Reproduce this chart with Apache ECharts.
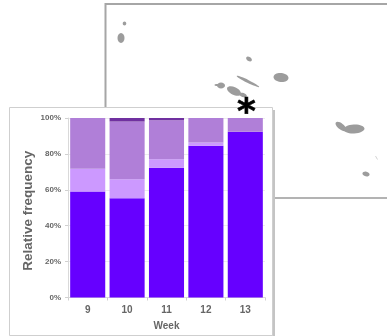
<!DOCTYPE html>
<html>
<head>
<meta charset="utf-8">
<style>
  html, body { margin: 0; padding: 0; background: #fff; }
  #main { width: 387px; height: 336px; }
</style>
<script src="https://cdn.jsdelivr.net/npm/echarts@6/dist/echarts.min.js"></script>
</head>
<body>
<div id="main"></div>
<script>
var weeks = ["9", "10", "11", "12", "13"];
var bottomValues = [59, 55.3, 72.3, 84.5, 92.4];
var lightValues = [12.7, 10.6, 4.7, 1.9, 0];
var midValues = [28.3, 32.1, 21.7, 13.6, 7.6];
var darkValues = [0, 2, 1.3, 0, 0];
var yTicks = [0, 20, 40, 60, 80, 100];

var landColor = "#9c9c9c";
var frameColor = "#a6a6a6";

function ellipse(cx, cy, rx, ry, deg) {
  // deg is clockwise on screen, zrender rotates the other way
  return {
    type: "ellipse",
    z: -1,
    x: cx,
    y: cy,
    rotation: (-(deg || 0) * Math.PI) / 180,
    shape: { cx: 0, cy: 0, rx: rx, ry: ry },
    style: { fill: landColor },
  };
}

var chart = echarts.init(document.getElementById("main"));
chart.setOption({
  animation: false,
  backgroundColor: "#fff",
  graphic: [
    // map frame behind the panel
    { type: "polyline", z: -1, shape: { points: [[105.5, 198], [105.5, 4], [387, 4]] }, style: { stroke: frameColor, lineWidth: 2, fill: null } },
    { type: "line", z: -1, shape: { x1: 273, y1: 198, x2: 387, y2: 198 }, style: { stroke: "#9a9a9a", lineWidth: 1.5 } },
    ellipse(124.5, 23.5, 1.8, 2),
    ellipse(121, 38, 3.5, 5),
    ellipse(249, 59, 3.2, 2, 35),
    ellipse(248, 81.5, 12.5, 1.5, 26),
    ellipse(281, 77.5, 7.5, 4.5, 6),
    ellipse(221, 85.5, 4, 3),
    ellipse(217, 85, 2.5, 1),
    ellipse(234, 91, 7.5, 3.8, 25),
    ellipse(243, 95, 4, 2, 20),
    ellipse(366, 174, 3.6, 2.4, 10),
    ellipse(341, 126.5, 6.5, 3, 38),
    ellipse(354, 129, 10.5, 4.5, -3),
    { type: "line", z: -1, shape: { x1: 375.5, y1: 156, x2: 377.5, y2: 159.5 }, style: { stroke: "#c8c8c8", lineWidth: 0.8 } },
    // chart panel
    { type: "rect", z: -1, shape: { x: 11, y: 110, width: 264, height: 228 }, style: { fill: "#c4c4c4" } },
    { type: "rect", z: -1, shape: { x: 9.5, y: 107.5, width: 263, height: 228 }, style: { fill: "#fff", stroke: "#cfcfcf", lineWidth: 1 } },
    // asterisk over the panel edge
    { type: "text", z: 10, x: 246.5, y: 114, style: { text: "*", fontFamily: "DejaVu Sans", fontSize: 36, fontWeight: "bold", fill: "#000", stroke: "#000", lineWidth: 0.6, align: "center", verticalAlign: "middle" } },
  ],
  grid: { left: 68, right: 122, top: 118, bottom: 38.5, outerBoundsMode: "none" },
  xAxis: {
    type: "category",
    data: weeks,
    name: "Week",
    nameLocation: "middle",
    nameGap: 29,
    nameMoveOverlap: false,
    nameTextStyle: { color: "#666", fontSize: 10, fontWeight: "bold", fontFamily: "Liberation Sans", verticalAlign: "middle" },
    axisLine: { lineStyle: { color: "#d9d9d9", width: 1 } },
    axisTick: { show: true, alignWithLabel: false, length: 3, lineStyle: { color: "#d0d0d0" } },
    axisLabel: { color: "#666", fontSize: 10, fontWeight: "bold", fontFamily: "Liberation Sans", margin: 8 },
  },
  yAxis: {
    type: "value",
    min: 0,
    max: 100,
    interval: 20,
    name: "Relative frequency",
    nameLocation: "middle",
    nameGap: 40,
    nameMoveOverlap: false,
    nameTextStyle: { color: "#666", fontSize: 13.5, fontWeight: "bold", fontFamily: "Liberation Sans", verticalAlign: "middle", padding: [0, 6, 0, 0] },
    axisLine: { show: true, lineStyle: { color: "#d9d9d9", width: 1 } },
    axisTick: { show: true, length: 3, lineStyle: { color: "#d0d0d0" } },
    splitLine: { show: true, lineStyle: { color: "#ececec", width: 1 } },
    axisLabel: {
      color: "#666",
      fontSize: 8,
      fontWeight: "bold",
      fontFamily: "Liberation Sans",
      margin: 7,
      formatter: function (v) {
        return yTicks.indexOf(v) >= 0 ? v + "%" : "";
      },
    },
  },
  series: [
    { name: "a", type: "bar", stack: "total", barWidth: "89%", data: bottomValues, itemStyle: { color: "#6600ff" } },
    { name: "b", type: "bar", stack: "total", data: lightValues, itemStyle: { color: "#cc99ff" } },
    { name: "c", type: "bar", stack: "total", data: midValues, itemStyle: { color: "#b07fd8" } },
    { name: "d", type: "bar", stack: "total", data: darkValues, itemStyle: { color: "#7030a0" } },
  ],
});
</script>
</body>
</html>
